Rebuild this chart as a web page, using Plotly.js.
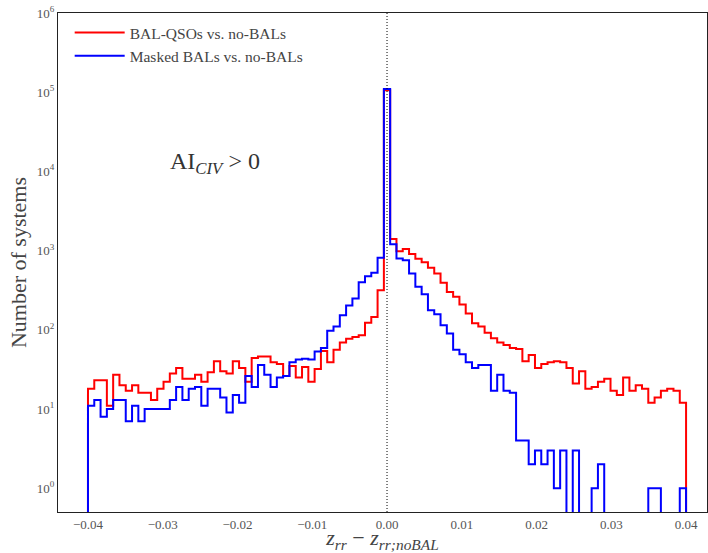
<!DOCTYPE html>
<html>
<head>
<meta charset="utf-8">
<script src="https://cdn.plot.ly/plotly-3.0.1.min.js"></script>
<style>html,body{margin:0;padding:0;background:#fff}#chart{width:708px;height:553px}</style>
</head>
<body>
<div id="chart"></div>
<script>
// Histogram: 95 bins between -0.04 and 0.04
const binLo = -0.04;
const binHi = 0.04;
const nBins = 95;

const seriesNames = ["BAL-QSOs vs. no-BALs", "Masked BALs vs. no-BALs"];

const balCounts = [
  18, 23, 23, 11, 27, 20, 17, 20, 16, 16,
  13, 18, 22, 28, 33, 24, 24, 27, 22, 29,
  40, 30, 28, 40, 33, 22, 44, 46, 46, 39,
  37, 26, 35, 25, 34, 22, 32, 54, 39, 56,
  69, 77, 81, 85, 123, 145, 316, 106000, 1400, 980,
  1050, 908, 787, 713, 605, 514, 392, 299, 261, 209,
  161, 121, 110, 92, 78, 69, 64, 59, 57, 40,
  48, 33, 37, 39, 40, 39, 33, 21, 30, 18,
  19, 22, 24, 17, 15, 25, 17, 20, 18, 12,
  14, 17, 18, 17, 12
];

const maskedCounts = [
  11, 13, 8, 10, 13, 13, 7, 11, 7, 10,
  10, 10, 10, 13, 19, 13, 18, 19, 11, 18,
  18, 14, 9, 15, 12, 26, 19, 36, 27, 19,
  25, 26, 39, 42, 43, 42, 53, 59, 97, 110,
  152, 203, 249, 399, 475, 524, 809, 110000, 1200, 793,
  755, 514, 349, 280, 177, 157, 114, 90, 56, 49,
  39, 33, 36, 36, 17, 27, 17, 16, 4, 4,
  2, 3, 2, 3, 1, 3, 0, 3, 0, 0,
  1, 2, 0, 0, 0, 0, 0, 0, 0, 1,
  1, 0, 0, 0, 1
];

const xTickVals = [-0.04, -0.03, -0.02, -0.01, 0.00, 0.01, 0.02, 0.03, 0.04];
const xTickText = ["\u22120.04", "\u22120.03", "\u22120.02", "\u22120.01", "0.00", "0.01", "0.02", "0.03", "0.04"];
const yTickVals = [1, 10, 100, 1000, 10000, 100000, 1000000];
const yTickText = ["10<sup>0</sup>", "10<sup>1</sup>", "10<sup>2</sup>", "10<sup>3</sup>", "10<sup>4</sup>", "10<sup>5</sup>", "10<sup>6</sup>"];

// build step outline like histtype='step'
function stepPath(counts) {
  const w = (binHi - binLo) / nBins;
  const floor = 1e-3; // zero counts fall below the log axis
  const xs = [binLo];
  const ys = [floor];
  for (let i = 0; i < counts.length; i++) {
    xs.push(binLo + i * w);
    ys.push(counts[i] > 0 ? counts[i] : floor);
  }
  xs.push(binHi);
  ys.push(floor);
  return {x: xs, y: ys};
}

const p1 = stepPath(balCounts);
const p2 = stepPath(maskedCounts);

const serif = "Liberation Serif, DejaVu Serif, serif";

const traces = [
  {x: p1.x, y: p1.y, type: "scatter", mode: "lines", name: seriesNames[0],
   line: {shape: "hv", color: "#ff0000", width: 2}},
  {x: p2.x, y: p2.y, type: "scatter", mode: "lines", name: seriesNames[1],
   line: {shape: "hv", color: "#0000ff", width: 2}}
];

const layout = {
  width: 708, height: 553,
  margin: {l: 58, r: 1, t: 13, b: 41},
  paper_bgcolor: "#ffffff", plot_bgcolor: "#ffffff",
  font: {family: serif, color: "#444444", size: 13},
  showlegend: true,
  legend: {x: 0.018, y: 0.994, xanchor: "left", yanchor: "top",
           bgcolor: "rgba(0,0,0,0)", borderwidth: 0,
           font: {family: serif, size: 15.5, color: "#444444"},
           itemwidth: 50, tracegroupgap: 0},
  xaxis: {range: [-0.04401, 0.0428], tickvals: xTickVals, ticktext: xTickText,
          showgrid: false, zeroline: false, showline: true, mirror: true,
          linecolor: "#222222", linewidth: 1, ticks: "",
          tickfont: {family: serif, size: 13, color: "#555555"},
          title: {text: "<i>z</i><sub><i>rr</i></sub> \u2212 <i>z</i><sub><i>rr;noBAL</i></sub>",
                  font: {family: serif, size: 22, color: "#444444"}, standoff: 6}},
  yaxis: {type: "log", range: [-0.301, 6], tickvals: yTickVals, ticktext: yTickText,
          showgrid: false, zeroline: false, showline: true, mirror: true,
          linecolor: "#222222", linewidth: 1, ticks: "",
          tickfont: {family: serif, size: 13, color: "#555555"},
          title: {text: "Number of systems", font: {family: serif, size: 22, color: "#444444"}, standoff: 4}},
  shapes: [{type: "line", xref: "x", yref: "paper", x0: 0, x1: 0, y0: 0, y1: 1,
            line: {color: "#000000", width: 1, dash: "1px,2px"}}],
  annotations: [{xref: "paper", yref: "paper", x: 0.17, y: 0.70, xanchor: "left", yanchor: "middle",
                 showarrow: false, text: "AI<sub><i>CIV</i></sub> > 0",
                 font: {family: serif, size: 24, color: "#333333"}}]
};

Plotly.newPlot("chart", traces, layout, {displayModeBar: false, staticPlot: true});
</script>
</body>
</html>
